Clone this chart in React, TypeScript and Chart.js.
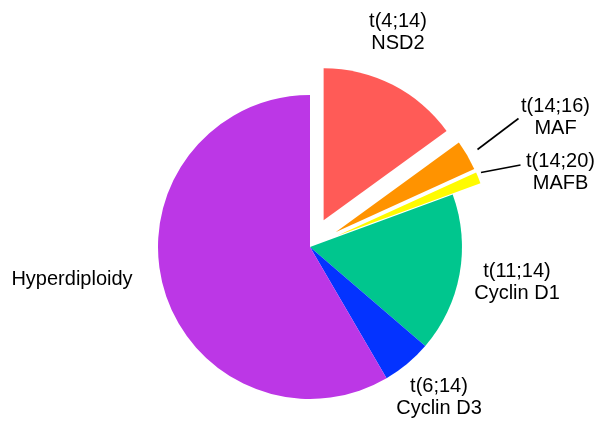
import React, { useEffect, useRef } from "react";
import { Chart, registerables } from "chart.js";

Chart.register(...registerables);

// Slice order runs clockwise from 12 o'clock.
const categories = ["t(4;14)\nNSD2", "t(14;16)\nMAF", "t(14;20)\nMAFB", "t(11;14)\nCyclin D1", "t(6;14)\nCyclin D3", "Hyperdiploidy"];
const shares = [15, 3.2, 1.2, 16.9, 5.3, 58.4];
const sliceColors = ["#FF5B57", "#FF9300", "#FFFB00", "#00C68E", "#0433FF", "#BC37E6"];
// Pull-out distance (px) of each slice from the centre.
const explode = [30, 30, 30, 0, 0, 0];

// Label anchors relative to the pie centre: [dx, dy of the first baseline].
const labelAnchors: [number, number][] = [
  [88, -220.5],
  [245.5, -135.5],
  [250.5, -80.5],
  [207, 29.5],
  [129, 144.5],
  [-238, 38],
];
// Leader lines for the two thin slices, relative to the pie centre.
const leaderLines: Record<number, [number, number, number, number]> = {
  1: [167.5, -97.5, 208.5, -128.5],
  2: [171, -74.5, 210.5, -82],
};

const FONT = '20px "Liberation Sans", Arial, sans-serif';
const LINE_HEIGHT = 22;

const explodedPie = {
  id: "explodedPie",
  beforeDatasetDraw(chart: any, args: any) {
    const ctx: CanvasRenderingContext2D = chart.ctx;
    args.meta.data.forEach((arc: any, i: number) => {
      const { x, y, startAngle, endAngle, outerRadius } = arc.getProps(
        ["x", "y", "startAngle", "endAngle", "outerRadius"],
        true
      );
      const mid = (startAngle + endAngle) / 2;
      const d = explode[i] || 0;
      const cx = x + Math.cos(mid) * d;
      const cy = y + Math.sin(mid) * d;
      ctx.save();
      ctx.beginPath();
      ctx.moveTo(cx, cy);
      ctx.arc(cx, cy, outerRadius, startAngle, endAngle);
      ctx.closePath();
      ctx.fillStyle = sliceColors[i];
      ctx.fill();
      ctx.restore();
    });
    return false;
  },
};

const sliceLabels = {
  id: "sliceLabels",
  afterDatasetsDraw(chart: any) {
    const meta = chart.getDatasetMeta(0);
    if (!meta.data.length) return;
    const { x: ox, y: oy } = meta.data[0].getProps(["x", "y"], true);
    const ctx: CanvasRenderingContext2D = chart.ctx;
    ctx.save();
    ctx.font = FONT;
    ctx.fillStyle = "#000";
    ctx.textAlign = "center";
    ctx.textBaseline = "alphabetic";
    categories.forEach((label, i) => {
      const [dx, dy] = labelAnchors[i];
      label.split("\n").forEach((line, j) => {
        ctx.fillText(line, ox + dx, oy + dy + j * LINE_HEIGHT);
      });
      const seg = leaderLines[i];
      if (seg) {
        ctx.beginPath();
        ctx.moveTo(ox + seg[0], oy + seg[1]);
        ctx.lineTo(ox + seg[2], oy + seg[3]);
        ctx.strokeStyle = "#000";
        ctx.lineWidth = 1.6;
        ctx.stroke();
      }
    });
    ctx.restore();
  },
};

export default function App() {
  const canvasRef = useRef<HTMLCanvasElement | null>(null);

  useEffect(() => {
    if (!canvasRef.current) return;
    const chart = new Chart(canvasRef.current, {
      type: "pie",
      data: {
        labels: categories.map((c) => c.replace("\n", " ")),
        datasets: [
          {
            data: shares,
            backgroundColor: sliceColors,
            borderWidth: 0,
          },
        ],
      },
      options: {
        responsive: false,
        animation: false,
        devicePixelRatio: 1,
        radius: 152,
        layout: { padding: { left: 22, right: 0, top: 68, bottom: 0 } },
        plugins: {
          legend: { display: false },
          tooltip: { enabled: false },
        },
        events: [],
      } as any,
      plugins: [explodedPie, sliceLabels],
    });
    return () => chart.destroy();
  }, []);

  return (
    <div style={{ position: "absolute", left: 0, top: 0, width: 598, height: 426, background: "#fff" }}>
      <canvas ref={canvasRef} width={598} height={426} style={{ display: "block" }} />
    </div>
  );
}
